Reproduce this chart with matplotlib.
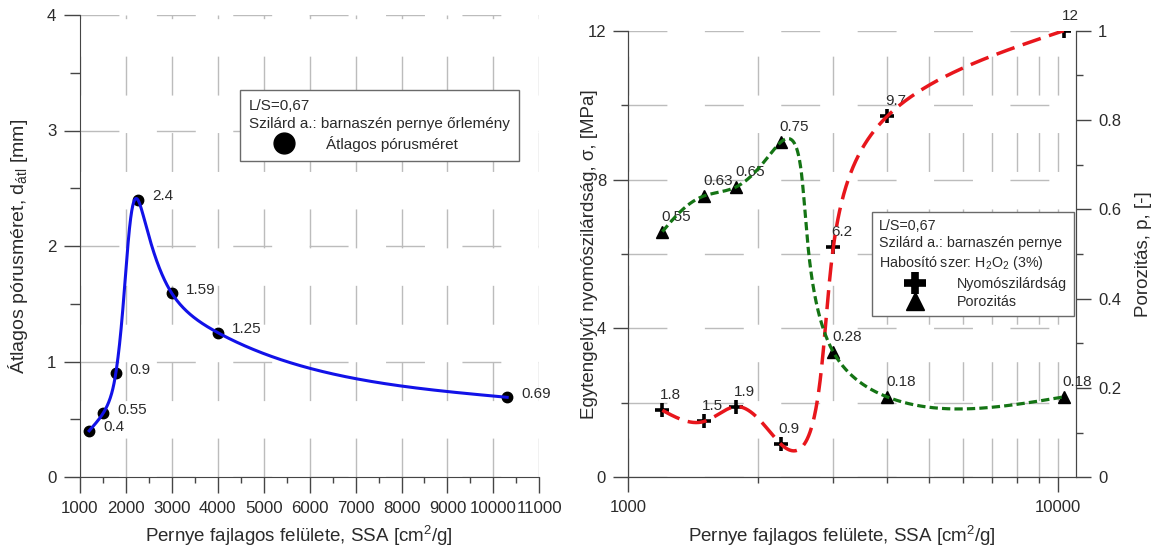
import numpy as np
import matplotlib
matplotlib.use("Agg")
import matplotlib.pyplot as plt
from matplotlib.lines import Line2D
from matplotlib.ticker import MultipleLocator, FixedLocator, FixedFormatter, FuncFormatter, NullFormatter

plt.rcParams['font.family'] = ['Liberation Sans', 'DejaVu Sans']
plt.rcParams['mathtext.fontset'] = 'custom'
plt.rcParams['mathtext.rm'] = 'Liberation Sans'
plt.rcParams['mathtext.it'] = 'Liberation Sans:italic'
plt.rcParams['mathtext.bf'] = 'Liberation Sans:bold'
plt.rcParams['mathtext.default'] = 'regular'
TXT = '#2b2b2b'
plt.rcParams['text.color'] = TXT
plt.rcParams['axes.labelcolor'] = TXT

# ---------------- data ----------------
ssa = np.array([1200, 1500, 1780, 2260, 3000, 4000, 10300])          # cm2/g
pore_size = np.array([0.4, 0.55, 0.9, 2.4, 1.59, 1.25, 0.69])        # mm
strength = np.array([1.8, 1.5, 1.9, 0.9, 6.2, 9.7, 12.0])            # MPa
porosity = np.array([0.55, 0.63, 0.65, 0.75, 0.28, 0.18, 0.18])      # -

left_xticks = list(range(1000, 11001, 1000))
right_xticks = [1000, 10000]
right_xtick_labels = ['1000', '10000']
right_xminor = [2000, 3000, 4000, 5000, 6000, 7000, 8000, 9000]

# ---------------- smoothing helpers ----------------
def natural_spline(x, y, xs):
    n = len(x)
    h = np.diff(x)
    A = np.zeros((n, n)); b = np.zeros(n)
    A[0, 0] = 1; A[-1, -1] = 1
    for i in range(1, n - 1):
        A[i, i - 1] = h[i - 1]; A[i, i] = 2 * (h[i - 1] + h[i]); A[i, i + 1] = h[i]
        b[i] = 3 * ((y[i + 1] - y[i]) / h[i] - (y[i] - y[i - 1]) / h[i - 1])
    c = np.linalg.solve(A, b)
    bb = (y[1:] - y[:-1]) / h - h * (2 * c[:-1] + c[1:]) / 3
    d = (c[1:] - c[:-1]) / (3 * h)
    idx = np.clip(np.searchsorted(x, xs) - 1, 0, n - 2)
    t = xs - x[idx]
    return y[idx] + bb[idx] * t + c[idx] * t ** 2 + d[idx] * t ** 3


def screen_spline(ax, x, y, n=900):
    """Parametric (chord-length) natural spline drawn in the axes' display space."""
    pts = ax.transData.transform(np.column_stack([x, y]).astype(float))
    seg = np.sqrt((np.diff(pts, axis=0) ** 2).sum(axis=1))
    t = np.concatenate([[0.0], np.cumsum(seg)])
    ts = np.linspace(0, t[-1], n)
    X = natural_spline(t, pts[:, 0], ts)
    Y = natural_spline(t, pts[:, 1], ts)
    out = ax.transData.inverted().transform(np.column_stack([X, Y]))
    return out[:, 0], out[:, 1]

# ---------------- figure ----------------
W, H = 1156, 549
fig = plt.figure(figsize=(W / 100, H / 100), dpi=100)

def rect(l, t, r, b):
    return [l / W, 1 - b / H, (r - l) / W, (b - t) / H]

GRID = dict(color='#bcbcbc', lw=1.0, ls=(0, (28, 27)))
SPINE = '#454545'
BLUE = '#1212e8'
RED = '#e8161c'
GREEN = '#147414'

# ======== left chart ========
ax1 = fig.add_axes(rect(80, 15, 539.3, 477))
ax1.set_xlim(1000, 11000)
ax1.set_ylim(0, 4)
ax1.xaxis.set_major_locator(FixedLocator(left_xticks))
ax1.xaxis.set_minor_locator(MultipleLocator(500))
ax1.yaxis.set_major_locator(MultipleLocator(1))
ax1.yaxis.set_minor_locator(MultipleLocator(0.5))
ax1.xaxis.set_major_formatter(FuncFormatter(lambda v, p: f'{v:.0f}'))
for s in ['top', 'right']:
    ax1.spines[s].set_visible(False)
for s in ['left', 'bottom']:
    ax1.spines[s].set_color(SPINE)
ax1.set_axisbelow(True)
ax1.grid(which='major', **GRID)
ax1.tick_params(which='major', direction='out', length=11.5, width=1, color=SPINE,
                labelsize=12.2, pad=5.5, labelcolor=TXT)
ax1.tick_params(axis='x', which='minor', direction='out', length=4.3, width=1, color=SPINE)
ax1.tick_params(axis='y', which='minor', direction='out', length=7.2, width=1, color=SPINE)

ax1.plot(ssa, pore_size, ls='none', marker='o', ms=7.5, color='black', zorder=3)
cx, cy = screen_spline(ax1, ssa, pore_size)
ax1.plot(cx, cy, color=BLUE, lw=2.2, zorder=4)
for x, v in zip(ssa, pore_size):
    ax1.annotate(f'{v:g}', (x, v), xytext=(14, 3.5), textcoords='offset pixels',
                 ha='left', va='center', fontsize=11, color=TXT)

ax1.set_xlabel('Pernye fajlagos felülete, SSA [cm$^2$/g]', fontsize=13.5)
ax1.set_ylabel('Átlagos pórusméret, d$_{átl}$ [mm]', fontsize=14)
ax1.xaxis.set_label_coords(0.477, -0.128)
ax1.xaxis.label.set_va('center')
ax1.yaxis.set_label_coords((18 - 80) / 459.3, 0.5)
ax1.yaxis.label.set_va('center')

h1 = Line2D([], [], ls='none', marker='o', ms=15, color='black')
leg1 = ax1.legend([h1], ['Átlagos pórusméret'],
                  title='L/S=0,67\nSzilárd a.: barnaszén pernye őrlemény',
                  loc='upper left', bbox_to_anchor=((240 - 80) / 459.3, (477 - 90) / 462),
                  alignment='left', fancybox=False, edgecolor='#6a6a6a', framealpha=1,
                  fontsize=11, title_fontsize=11, handlelength=4.6, handletextpad=0.4,
                  borderpad=0.6, borderaxespad=0, labelspacing=0.3)
leg1.get_title().set_multialignment('left')
leg1.get_title().set_linespacing(1.35)
leg1.get_frame().set_linewidth(1.0)

# ======== right chart ========
ax3 = fig.add_axes(rect(628.3, 30.7, 1076, 477.3))
ax4 = ax3.twinx()
ax3.set_xscale('log')
ax3.set_xlim(1000, 11000)
ax3.set_ylim(0, 12)
ax4.set_ylim(0, 1)
ax3.xaxis.set_major_locator(FixedLocator(right_xticks))
ax3.xaxis.set_major_formatter(FixedFormatter(right_xtick_labels))
ax3.xaxis.set_minor_locator(FixedLocator(right_xminor))
ax3.xaxis.set_minor_formatter(NullFormatter())
ax3.yaxis.set_major_locator(FixedLocator([0, 4, 8, 12]))
ax3.yaxis.set_minor_locator(FixedLocator([2, 6, 10]))
ax4.yaxis.set_major_locator(MultipleLocator(0.2))
ax4.yaxis.set_minor_locator(MultipleLocator(0.1))
ax4.yaxis.set_major_formatter(FuncFormatter(lambda v, p: f'{v:g}'))
for a in (ax3, ax4):
    a.spines['top'].set_visible(False)
    for s in ['left', 'bottom', 'right']:
        a.spines[s].set_color(SPINE)
ax3.set_axisbelow(True)
ax3.grid(which='both', **GRID)
for a in (ax3, ax4):
    a.tick_params(which='major', direction='out', length=10.5, width=1, color=SPINE,
                  labelsize=12, pad=5.5, labelcolor=TXT)
    a.tick_params(which='minor', direction='out', length=5, width=1, color=SPINE)
ax3.tick_params(axis='x', which='minor', length=4.3)

ax3.plot(ssa, strength, ls='none', marker='+', ms=10, mew=2.6, color='black', zorder=3)
rx, ry = screen_spline(ax3, ssa, strength)
ax3.plot(rx, ry, color=RED, lw=2.5, ls=(0, (5.5, 2.5)), zorder=4)
ax4.plot(ssa, porosity, ls='none', marker='^', ms=8, color='black', zorder=3)
gx, gy = screen_spline(ax4, ssa, porosity)
ax4.plot(gx, gy, color=GREEN, lw=2.3, ls=(0, (2.6, 1.3)), zorder=4)
for x, v in zip(ssa, strength):
    ax3.annotate(f'{v:g}', (x, v), xytext=(-2, 15), textcoords='offset pixels',
                 ha='left', va='center', fontsize=11, color=TXT, annotation_clip=False)
for x, v in zip(ssa, porosity):
    ax4.annotate(f'{v:g}', (x, v), xytext=(-1, 15), textcoords='offset pixels',
                 ha='left', va='center', fontsize=11, color=TXT, annotation_clip=False)

ax3.set_xlabel('Pernye fajlagos felülete, SSA [cm$^2$/g]', fontsize=13.5)
ax3.xaxis.set_label_coords(0.477, -0.131)
ax3.xaxis.label.set_va('center')
ax3.set_ylabel('Egytengelyű nyomószilárdság, σ, [MPa]', fontsize=13.5)
ax3.yaxis.set_label_coords((590 - 628.3) / 447.7, 0.5)
ax3.yaxis.label.set_va('center')
ax4.set_ylabel('Porozitás, p, [-]', fontsize=13.5)
ax4.yaxis.set_label_coords((1144 - 628.3) / 447.7, 0.5)
ax4.yaxis.label.set_va('center')

h2 = Line2D([], [], ls='none', marker='+', ms=16, mew=5.5, color='black')
h3 = Line2D([], [], ls='none', marker='^', ms=13, color='black')
leg2 = ax4.legend([h2, h3], ['Nyomószilárdság', 'Porozitás'],
                  title='L/S=0,67\nSzilárd a.: barnaszén pernye\nHabosító szer: H$_2$O$_2$ (3%)',
                  loc='upper left',
                  bbox_to_anchor=((872 - 628.3) / 447.7, (477.3 - 212) / 446.6),
                  alignment='left', fancybox=False, edgecolor='#6a6a6a', framealpha=1,
                  fontsize=10.3, title_fontsize=10.3, handlelength=5.0, handletextpad=0.42,
                  borderpad=0.5, borderaxespad=0, labelspacing=0.3)
leg2.get_title().set_multialignment('left')
leg2.get_title().set_linespacing(1.3)
leg2.get_frame().set_linewidth(1.0)
leg2.set_zorder(10)

fig.savefig('out.png', dpi=100)
